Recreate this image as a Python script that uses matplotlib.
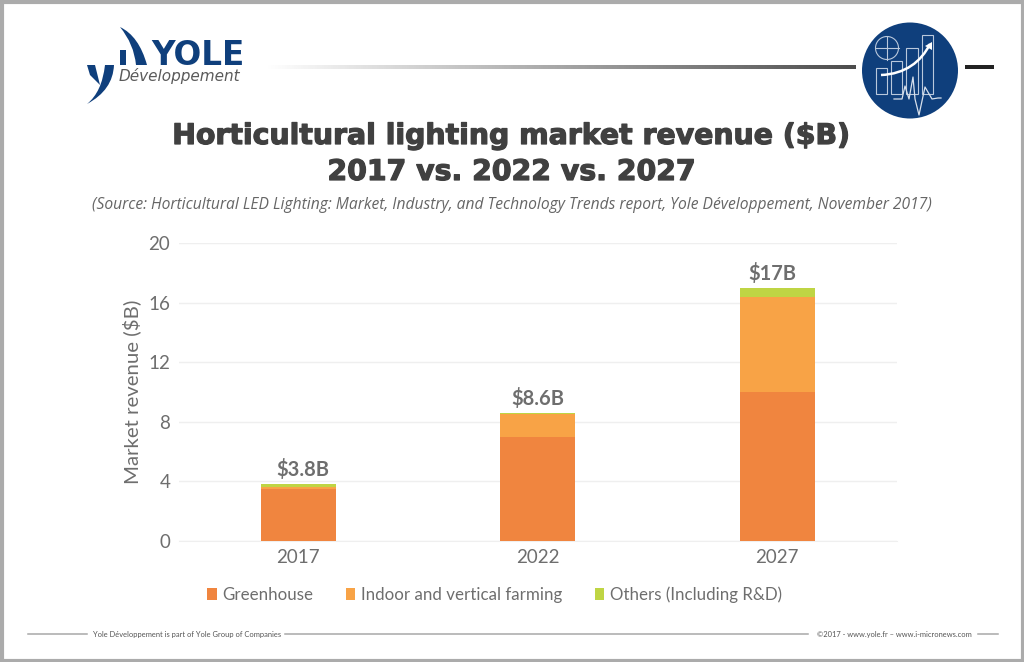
import matplotlib
matplotlib.use('Agg')
import matplotlib.pyplot as plt
import matplotlib.patheffects as pe
import numpy as np
from matplotlib.patches import Circle, Polygon, Rectangle, PathPatch
from matplotlib.path import Path

years = ['2017', '2022', '2027']
greenhouse = [3.5, 7.0, 10.0]
indoor = [0.1, 1.5, 6.4]
others = [0.2, 0.1, 0.6]
totals = ['$3.8B', '$8.6B', '$17B']
y_ticks = [0, 4, 8, 12, 16, 20]

W, H = 1024, 662
GREY = '#6e6e6e'
NAVY = '#0f3f7c'

plt.rcParams['font.family'] = ['Lato', 'DejaVu Sans']
fig = plt.figure(figsize=(W / 100, H / 100), dpi=100, facecolor='white')

# pixel canvas for the frame, logo and header
bg = fig.add_axes([0, 0, 1, 1])
bg.set_xlim(0, W)
bg.set_ylim(H, 0)
bg.axis('off')
bg.add_patch(Rectangle((1.5, 1.5), W - 3, H - 3, fill=False, ec='#ababab', lw=3))

# header rule, fading in from the left
ramp = np.linspace(1, 0.3, 256).reshape(1, -1)
bg.imshow(ramp, extent=(265, 856, 69, 65), cmap='gray', vmin=0, vmax=1, aspect='auto')
bg.set_xlim(0, W)
bg.set_ylim(H, 0)
bg.add_patch(Rectangle((965, 65), 29, 4, color='#222222', lw=0))

# Yole logo
bg.add_patch(Rectangle((119.5, 50), 6.5, 15, color=NAVY, lw=0))
bg.add_patch(PathPatch(Path([(120, 27), (139, 36), (147, 65), (136, 65), (134, 44), (120, 27)],
                            [1, 3, 3, 2, 3, 3]), fc=NAVY, ec='none'))
bg.add_patch(Polygon([(87, 65), (95, 65), (100, 85), (90, 75)], fc=NAVY, ec='none'))
bg.add_patch(PathPatch(Path([(105, 65), (114, 65), (113, 90), (87, 104), (102, 92), (105, 65)],
                            [1, 2, 3, 3, 3, 3]), fc=NAVY, ec='none'))
bg.text(151, 65, 'YOLE', fontsize=23.5, fontweight='bold', family='DejaVu Sans', color=NAVY,
        ha='left', va='baseline')
bg.text(119, 81, 'Développement', fontsize=11, style='italic', family='DejaVu Sans', color='#5a5a5a',
        ha='left', va='baseline')

# round chart badge
bg.add_patch(Circle((910, 70.5), 48, color=NAVY, lw=0))
for x0, x1, y0 in [(876, 887, 68), (891, 902, 61), (906, 918, 48), (922, 933, 35)]:
    bg.add_patch(Rectangle((x0, y0), x1 - x0, 94 - y0, fill=False, ec='#b9c8dc', lw=0.8))
bg.add_patch(Circle((887, 48), 11.5, fill=False, ec='#b9c8dc', lw=0.8))
bg.plot([875.5, 898.5], [48, 48], color='#b9c8dc', lw=0.8)
bg.plot([887, 887], [36.5, 59.5], color='#b9c8dc', lw=0.8)
bg.add_patch(PathPatch(Path([(881, 75), (905, 74), (921, 62), (930, 44)], [1, 4, 4, 4]),
                       fill=False, ec='white', lw=1.8))
bg.add_patch(Polygon([(932, 42), (932, 50), (925, 46)], color='white', lw=0))
bg.plot([894, 902, 905, 909, 913, 915, 919, 925, 932, 938, 941],
        [99, 99, 86, 99, 77, 99, 115, 87, 99, 98, 98], color='#d7e0ec', lw=0.9)

# titles
heavy = [pe.withStroke(linewidth=0.9, foreground='#404040')]
bg.text(512, 136, 'Horticultural lighting market revenue ($B)', fontsize=20.4, fontweight='bold',
        family='DejaVu Sans', color='#404040', ha='center', va='center', path_effects=heavy)
bg.text(512, 172, '2017 vs. 2022 vs. 2027', fontsize=20.4, fontweight='bold',
        family='DejaVu Sans', color='#404040', ha='center', va='center', path_effects=heavy)
bg.text(512, 203, '(Source: Horticultural LED Lighting: Market, Industry, and Technology Trends report, '
        'Yole Développement, November 2017)', fontsize=11.25, style='italic', family='Open Sans',
        color='#666666', ha='center', va='center_baseline')

# footer
for x0, x1 in [(28, 87), (285, 808), (978, 998)]:
    bg.plot([x0, x1], [634, 634], color='#a8a8a8', lw=1.1)
bg.text(93, 634, 'Yole Développement is part of Yole Group of Companies', fontsize=5.4,
        color='#555555', ha='left', va='center')
bg.text(817, 634, '©2017 - www.yole.fr – www.i-micronews.com', fontsize=5.4,
        color='#555555', ha='left', va='center')

# chart
ax = fig.add_axes([178.5 / W, 1 - 541 / H, (897 - 178.5) / W, (541 - 243) / H])
ax.patch.set_alpha(0)
x = np.arange(len(years))
g = np.array(greenhouse)
i = np.array(indoor)
o = np.array(others)
ax.bar(x, g, 0.313, color='#f0853f', label='Greenhouse', linewidth=0, zorder=3)
ax.bar(x, i, 0.313, bottom=g, color='#f8a346', label='Indoor and vertical farming', linewidth=0, zorder=3)
ax.bar(x, o, 0.313, bottom=g + i, color='#bfd544', label='Others (Including R&D)', linewidth=0, zorder=3)

for pos, top, label, dx in zip(x, g + i + o, totals, [5, 0, -5]):
    ax.annotate(label, (pos, top), xytext=(dx * 0.72, 3), textcoords='offset points', ha='center',
                va='bottom', fontsize=14.5, fontweight='bold', color=GREY)

ax.set_xlim(-0.5, 2.5)
ax.set_ylim(0, 20)
ax.set_xticks(x, years)
ax.set_yticks(y_ticks)
ax.tick_params(length=0, labelsize=13.5, labelcolor=GREY, pad=6)
ax.yaxis.grid(True, color='#efefef', lw=1)
ax.set_axisbelow(True)
for name, spine in ax.spines.items():
    spine.set_visible(name == 'bottom')
    spine.set_color('#efefef')
ax.set_ylabel('Market revenue ($B)', fontsize=14.7, color=GREY, labelpad=5)

leg = ax.legend(loc='center', bbox_to_anchor=(0.44, -0.18), ncol=3, frameon=False, fontsize=12.2,
                handlelength=0.55, handleheight=0.75, handletextpad=0.35, columnspacing=1.9, borderpad=0)
for t in leg.get_texts():
    t.set_color(GREY)

fig.savefig('out.png', dpi=100)
